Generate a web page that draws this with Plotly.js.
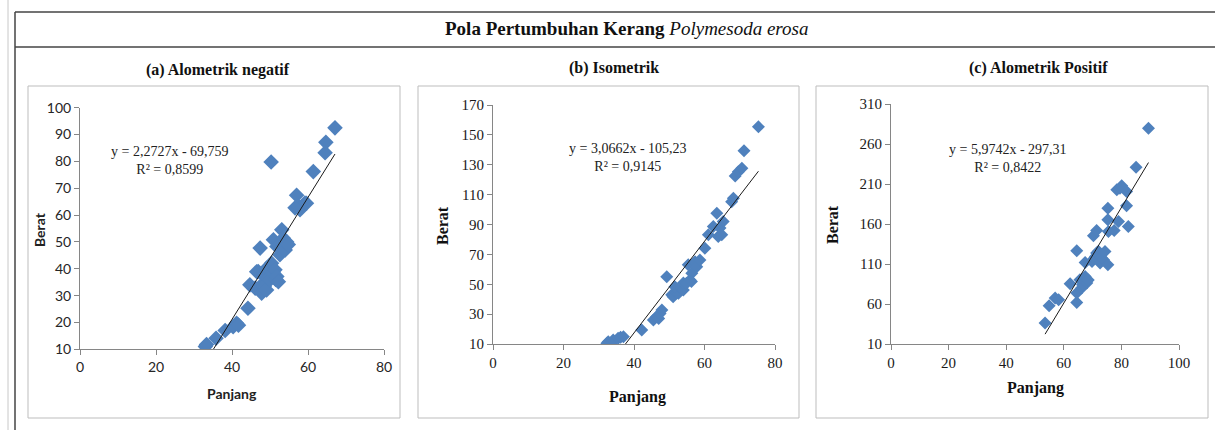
<!DOCTYPE html>
<html>
<head>
<meta charset="utf-8">
<script src="https://cdn.plot.ly/plotly-3.0.1.min.js"></script>
<style>
html,body{margin:0;padding:0;background:#fff;}
#chart{width:1215px;height:430px;}
</style>
</head>
<body>
<div id="chart"></div>
<script>
// ---------- DATA ----------
const mainTitle = 'Pola Pertumbuhan Kerang';
const mainTitleItalic = 'Polymesoda erosa';
const panelTitles = ['(a) Alometrik negatif', '(b) Isometrik', '(c) Alometrik Positif'];
const xAxisTitle = 'Panjang';
const yAxisTitle = 'Berat';

// (a) Alometrik negatif
const panjangA = [33.0,33.3,35.8,38.2,40.3,41.2,41.7,44.2,44.7,46.1,46.5,46.9,47.4,47.8,47.8,48.2,48.5,49.1,49.1,49.5,50.0,50.3,50.4,50.8,51.3,51.5,51.8,51.8,50.9,52.2,52.6,52.8,53.1,53.5,54.0,54.4,54.8,56.6,57.0,57.5,57.9,59.2,59.6,61.4,64.5,64.7,67.1];
const beratA   = [11.0,11.8,14.1,17.0,18.4,19.7,19.0,25.3,34.0,32.8,38.9,39.0,47.7,34.0,30.9,37.7,33.5,40.2,32.1,36.5,35.9,79.8,42.1,38.5,39.6,36.0,37.1,48.3,50.8,35.2,45.2,49.5,54.5,51.4,47.0,50.0,49.0,62.7,67.4,63.3,62.0,64.5,64.4,76.2,83.2,87.1,92.5];
const slopeA = 2.2727, interceptA = -69.759;
const eqA = 'y = 2,2727x - 69,759', r2A = 'R² = 0,8599';

// (b) Isometrik
const panjangB = [32.3,32.7,33.5,34.1,35.5,36.2,37.0,42.2,45.5,46.4,47.0,47.4,47.9,49.3,50.7,51.1,52.1,52.6,51.6,53.5,54.0,54.0,54.9,55.9,56.4,55.4,57.3,57.8,58.7,56.3,60.1,61.1,62.5,63.5,63.9,64.4,64.9,65.3,67.7,68.2,68.7,69.6,70.6,71.2,75.3];
const beratB   = [10.5,11.5,10.2,12.7,13.8,14.5,14.9,19.4,26.1,28.3,27.0,30.5,32.8,55.0,43.0,41.7,44.1,43.9,48.4,47.4,46.1,50.8,50.6,52.8,57.3,63.0,65.1,61.7,66.2,51.9,74.1,83.1,88.7,97.5,82.0,87.6,83.1,92.0,105.2,107.5,122.4,125.3,127.6,139.4,155.4];
const slopeB = 3.0662, interceptB = -105.23;
const eqB = 'y = 3,0662x - 105,23', r2B = 'R² = 0,9145';

// (c) Alometrik Positif
const panjangC = [53.5,54.9,57.0,58.2,62.2,64.5,64.5,64.5,65.6,66.2,66.5,67.4,67.4,68.0,68.5,69.8,70.3,70.5,71.0,71.4,71.4,72.0,72.6,72.6,73.0,73.8,74.3,75.3,75.3,75.3,75.5,77.5,79.0,78.4,79.5,80.1,81.8,81.8,82.4,85.1,89.4];
const beratC   = [36.2,57.9,67.4,65.3,85.3,62.0,73.7,126.5,90.3,79.9,84.0,94.5,112.0,86.2,90.0,113.2,145.2,117.0,119.4,151.9,123.6,126.0,121.5,111.1,118.0,115.3,125.7,109.0,165.2,179.8,150.7,151.9,163.1,202.7,204.6,207.7,200.6,182.7,156.9,231.0,279.7];
const slopeC = 5.9742, interceptC = -297.31;
const eqC = 'y = 5,9742x - 297,31', r2C = 'R² = 0,8422';

const xTicksA = [0,20,40,60,80], yTicksA = [10,20,30,40,50,60,70,80,90,100];
const xTicksB = [0,20,40,60,80], yTicksB = [10,30,50,70,90,110,130,150,170];
const xTicksC = [0,20,40,60,80,100], yTicksC = [10,60,110,160,210,260,310];

// ---------- HELPERS ----------
const W = 1215, H = 430;
const px = v => v / W;
const py = v => 1 - v / H;
function trend(xs, m, b) {
  const lo = Math.min(...xs), hi = Math.max(...xs);
  return {x: [lo, hi], y: [m * lo + b, m * hi + b]};
}
const blue = '#4F81BD';
const serif = 'Liberation Serif, Times New Roman, serif';
const sans = 'Lato, Liberation Sans, Arial, sans-serif';

const tA = trend(panjangA, slopeA, interceptA);
const tB = trend(panjangB, slopeB, interceptB);
const tC = trend(panjangC, slopeC, interceptC);

const mk = {symbol: 'diamond', size: 12, color: blue, line: {width: 0}};
const data = [
  {x: panjangA, y: beratA, type: 'scatter', mode: 'markers', marker: mk, xaxis: 'x', yaxis: 'y'},
  {x: tA.x, y: tA.y, type: 'scatter', mode: 'lines', line: {color: '#1a1a1a', width: 1}, xaxis: 'x', yaxis: 'y'},
  {x: panjangB, y: beratB, type: 'scatter', mode: 'markers', marker: Object.assign({}, mk, {size: 10}), xaxis: 'x2', yaxis: 'y2'},
  {x: tB.x, y: tB.y, type: 'scatter', mode: 'lines', line: {color: '#1a1a1a', width: 1}, xaxis: 'x2', yaxis: 'y2'},
  {x: panjangC, y: beratC, type: 'scatter', mode: 'markers', marker: Object.assign({}, mk, {size: 10}), xaxis: 'x3', yaxis: 'y3'},
  {x: tC.x, y: tC.y, type: 'scatter', mode: 'lines', line: {color: '#1a1a1a', width: 1}, xaxis: 'x3', yaxis: 'y3'}
];

function ax(domain, range, ticks, font, anchor) {
  return {domain: domain, range: range, tickvals: ticks, ticktext: ticks.map(String), anchor: anchor,
    showline: true, linecolor: '#868686', linewidth: 1, ticks: 'outside', ticklen: 5, tickcolor: '#868686',
    showgrid: false, zeroline: false, tickfont: font, fixedrange: true};
}
const fontA = {family: sans, size: 14, color: '#262626'};
const fontBC = {family: serif, size: 15, color: '#1a1a1a'};

function note(text, x, y, font, extra) {
  return Object.assign({text: text, xref: 'paper', yref: 'paper', x: px(x), y: py(y),
    xanchor: 'center', yanchor: 'middle', showarrow: false, align: 'center', font: font}, extra || {});
}
const titleFont = {family: serif, size: 19, color: '#111'};
const panelFont = {family: serif, size: 16, color: '#111'};
const axTitleA = {family: sans, size: 14, color: '#222'};
const axTitleBC = {family: serif, size: 16, color: '#111'};
const eqFont = {family: serif, size: 14, color: '#222'};

const layout = {
  width: W, height: H,
  margin: {l: 0, r: 0, t: 0, b: 0},
  paper_bgcolor: '#fff', plot_bgcolor: 'rgba(0,0,0,0)',
  showlegend: false,
  xaxis: ax([px(80), px(384)], [0, 80], xTicksA, fontA, 'y'),
  yaxis: ax([py(349.3), py(107.7)], [10, 100], yTicksA, fontA, 'x'),
  xaxis2: ax([px(493), px(775)], [0, 80], xTicksB, fontBC, 'y2'),
  yaxis2: ax([py(344), py(105)], [10, 170], yTicksB, fontBC, 'x2'),
  xaxis3: ax([px(891), px(1179)], [0, 100], xTicksC, fontBC, 'y3'),
  yaxis3: ax([py(344), py(104)], [10, 310], yTicksC, fontBC, 'x3'),
  shapes: [
    {type: 'line', xref: 'paper', yref: 'paper', x0: px(8), x1: px(8), y0: 0, y1: 1, line: {color: '#c8c8c8', width: 1}},
    {type: 'line', xref: 'paper', yref: 'paper', x0: px(15), x1: px(15), y0: py(12), y1: 0, line: {color: '#444', width: 1.5}},
    {type: 'line', xref: 'paper', yref: 'paper', x0: px(15), x1: 1, y0: py(12), y1: py(12), line: {color: '#444', width: 1.5}},
    {type: 'line', xref: 'paper', yref: 'paper', x0: px(15), x1: 1, y0: py(47), y1: py(47), line: {color: '#444', width: 1.5}},
    {type: 'rect', xref: 'paper', yref: 'paper', x0: px(28), x1: px(400), y0: py(418), y1: py(86), line: {color: '#bdbdbd', width: 1}},
    {type: 'rect', xref: 'paper', yref: 'paper', x0: px(418), x1: px(799), y0: py(418), y1: py(86), line: {color: '#bdbdbd', width: 1}},
    {type: 'rect', xref: 'paper', yref: 'paper', x0: px(816), x1: px(1208), y0: py(418), y1: py(86), line: {color: '#bdbdbd', width: 1}}
  ],
  annotations: [
    note('<b>' + mainTitle + '</b> <i>' + mainTitleItalic + '</i>', 626, 29, titleFont),
    note('<b>' + panelTitles[0] + '</b>', 218, 70, panelFont),
    note('<b>' + panelTitles[1] + '</b>', 614, 68, panelFont),
    note('<b>' + panelTitles[2] + '</b>', 1038, 68, panelFont),
    note('<b>' + yAxisTitle + '</b>', 40, 230, axTitleA, {textangle: -90}),
    note('<b>' + xAxisTitle + '</b>', 232, 393, axTitleA),
    note('<b>' + yAxisTitle + '</b>', 442, 225, axTitleBC, {textangle: -90}),
    note('<b>' + xAxisTitle + '</b>', 637, 397, axTitleBC),
    note('<b>' + yAxisTitle + '</b>', 832, 225, axTitleBC, {textangle: -90}),
    note('<b>' + xAxisTitle + '</b>', 1035, 388, axTitleBC),
    note(eqA + '<br>' + r2A, 170, 160, eqFont),
    note(eqB + '<br>' + r2B, 628, 157, eqFont),
    note(eqC + '<br>' + r2C, 1008, 159, eqFont)
  ]
};

Plotly.newPlot('chart', data, layout, {displayModeBar: false, staticPlot: true});
</script>
</body>
</html>
